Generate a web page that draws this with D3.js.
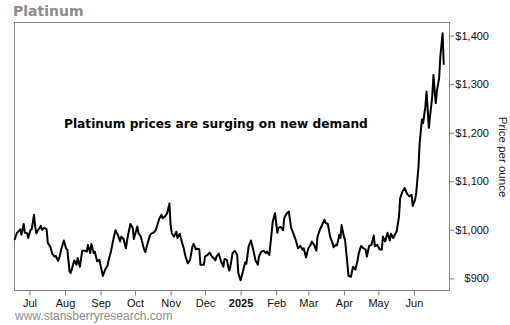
<!DOCTYPE html>
<html>
<head>
<meta charset="utf-8">
<script src="https://cdn.jsdelivr.net/npm/d3@7"></script>
<style>
  html, body { margin: 0; padding: 0; background: #fff; }
  svg { display: block; }
</style>
</head>
<body>
<svg id="chart" width="510" height="325"></svg>
<script>
const dates = [
"2024-06-18","2024-06-20","2024-06-23","2024-06-24","2024-06-26","2024-06-27","2024-06-29","2024-06-30",
"2024-07-02","2024-07-03","2024-07-05","2024-07-06","2024-07-07","2024-07-09","2024-07-11","2024-07-12",
"2024-07-14","2024-07-16","2024-07-17","2024-07-19","2024-07-21","2024-07-23","2024-07-24","2024-07-26",
"2024-07-27","2024-07-29","2024-07-31","2024-08-02","2024-08-03","2024-08-05","2024-08-06","2024-08-08",
"2024-08-09","2024-08-11","2024-08-12","2024-08-14","2024-08-16","2024-08-18","2024-08-20","2024-08-21",
"2024-08-23","2024-08-24","2024-08-26","2024-08-27","2024-08-29","2024-08-31","2024-09-03","2024-09-05",
"2024-09-07","2024-09-08","2024-09-10","2024-09-12","2024-09-14","2024-09-16","2024-09-18","2024-09-19",
"2024-09-21","2024-09-23","2024-09-25","2024-09-27","2024-09-29","2024-09-30","2024-10-03","2024-10-04",
"2024-10-06","2024-10-09","2024-10-10","2024-10-12","2024-10-14","2024-10-15","2024-10-17","2024-10-19",
"2024-10-21","2024-10-22","2024-10-24","2024-10-25","2024-10-27","2024-10-29","2024-10-31","2024-11-01",
"2024-11-02","2024-11-04","2024-11-06","2024-11-07","2024-11-09","2024-11-11","2024-11-12","2024-11-14",
"2024-11-16","2024-11-18","2024-11-20","2024-11-21","2024-11-23","2024-11-24","2024-11-26","2024-11-27",
"2024-11-30","2024-12-01","2024-12-03","2024-12-05","2024-12-07","2024-12-08","2024-12-10","2024-12-11",
"2024-12-13","2024-12-15","2024-12-17","2024-12-18","2024-12-20","2024-12-22","2024-12-23","2024-12-25",
"2024-12-27","2024-12-29","2024-12-30","2025-01-01","2025-01-03","2025-01-05","2025-01-06","2025-01-08",
"2025-01-10","2025-01-12","2025-01-14","2025-01-16","2025-01-17","2025-01-19","2025-01-21","2025-01-23",
"2025-01-24","2025-01-26","2025-01-28","2025-01-29","2025-01-31","2025-02-02","2025-02-03","2025-02-05",
"2025-02-07","2025-02-08","2025-02-10","2025-02-12","2025-02-14","2025-02-17","2025-02-18","2025-02-20",
"2025-02-22","2025-02-24","2025-02-25","2025-02-27","2025-03-01","2025-03-03","2025-03-04","2025-03-06",
"2025-03-08","2025-03-09","2025-03-11","2025-03-13","2025-03-15","2025-03-16","2025-03-18","2025-03-20",
"2025-03-22","2025-03-23","2025-03-25","2025-03-26","2025-03-28","2025-03-29","2025-03-30","2025-04-01",
"2025-04-02","2025-04-04","2025-04-05","2025-04-07","2025-04-09","2025-04-11","2025-04-13","2025-04-14",
"2025-04-16","2025-04-18","2025-04-20","2025-04-21","2025-04-23","2025-04-25","2025-04-27","2025-04-28",
"2025-04-30","2025-05-02","2025-05-04","2025-05-05","2025-05-07","2025-05-09","2025-05-11","2025-05-12",
"2025-05-14","2025-05-16","2025-05-17","2025-05-19","2025-05-20","2025-05-22","2025-05-24","2025-05-26",
"2025-05-28","2025-05-30","2025-05-31","2025-06-02","2025-06-03","2025-06-05","2025-06-06","2025-06-08",
"2025-06-09","2025-06-11","2025-06-12","2025-06-14","2025-06-15","2025-06-17","2025-06-18","2025-06-20",
"2025-06-21","2025-06-23","2025-06-24","2025-06-26","2025-06-27"
];
const prices = [
979,993,1001,990,1012,994,993,983,
1000,1001,1031,1007,993,1001,1008,1000,
1004,1001,973,966,950,945,946,936,
942,962,978,961,959,914,911,928,
937,928,942,924,957,957,955,969,
952,971,952,955,935,938,905,918,
926,938,955,979,999,990,976,986,
981,962,990,1012,1004,981,1007,993,
986,959,954,973,988,992,994,999,
1014,1022,1031,1024,1027,1034,1054,1010,
993,986,996,983,992,973,966,945,
931,938,966,971,960,961,960,928,
928,945,948,953,945,943,937,945,
951,935,924,940,938,916,923,952,
957,948,911,896,914,933,930,966,
978,959,937,928,945,955,957,952,
955,948,993,1017,1034,994,1004,1006,
999,1024,1033,1038,1004,986,979,962,
967,959,962,943,962,969,976,969,
957,986,1000,1010,1021,1014,1012,986,
973,964,969,968,990,983,1010,986,
979,931,905,903,924,918,938,952,
967,962,959,945,967,969,988,966,
969,960,959,986,976,994,978,992,
983,993,997,1027,1065,1079,1086,1074,
1069,1072,1049,1062,1076,1130,1179,1227,
1220,1254,1285,1210,1233,1275,1319,1261,
1285,1313,1357,1405,1340
];
const monthTicks = ["2024-07-01","2024-08-01","2024-09-01","2024-10-01","2024-11-01","2024-12-01",
                    "2025-01-01","2025-02-01","2025-03-01","2025-04-01","2025-05-01","2025-06-01"];
const monthLabels = ["Jul","Aug","Sep","Oct","Nov","Dec","2025","Feb","Mar","Apr","May","Jun"];
const priceTicks = [900, 1000, 1100, 1200, 1300, 1400];
const xDomain = ["2024-06-18", "2025-07-02"];
const yDomain = [875, 1427];

const parse = d3.utcParse("%Y-%m-%d");
const data = dates.map((d, i) => ({ date: parse(d), value: prices[i] }));

const L = 14.5, R = 449.5, T = 22.5, B = 290.5;
const x = d3.scaleUtc().domain(xDomain.map(parse)).range([L, R]);
const y = d3.scaleLinear().domain(yDomain).range([B, T]);

const svg = d3.select("#chart");
const gray = "#808080";

// title
svg.append("text").attr("x", 13).attr("y", 16)
  .attr("font-family", "DejaVu Sans").attr("font-weight", "bold").attr("font-size", 14)
  .attr("fill", "#8c8c8c").text("Platinum");

// frame
svg.append("rect").attr("x", L).attr("y", T).attr("width", R - L).attr("height", B - T)
  .attr("fill", "none").attr("stroke", gray).attr("stroke-width", 1);

// x axis
const xAxis = d3.axisBottom(x)
  .tickValues(monthTicks.map(parse))
  .tickSize(5).tickPadding(4)
  .tickFormat((d, i) => monthLabels[i]);
const gx = svg.append("g").attr("transform", `translate(0,${B})`).call(xAxis);
gx.select(".domain").remove();
gx.selectAll(".tick line").attr("stroke", gray);
gx.selectAll(".tick text")
  .attr("font-family", "Liberation Sans, Arial, sans-serif").attr("font-size", 11)
  .attr("fill", "#111")
  .attr("font-weight", (d, i) => monthLabels[i] === "2025" ? "bold" : "normal");

// y axis on right
const yAxis = d3.axisRight(y)
  .tickValues(priceTicks).tickSize(5).tickPadding(4)
  .tickFormat(d => "$" + d3.format(",")(d));
const gy = svg.append("g").attr("transform", `translate(${R},0)`).call(yAxis);
gy.select(".domain").remove();
gy.selectAll(".tick line").attr("stroke", gray);
gy.selectAll(".tick text")
  .attr("font-family", "Liberation Sans, Arial, sans-serif").attr("font-size", 11)
  .attr("fill", "#111").attr("text-anchor", "end").attr("x", 39.5);

// y axis title
svg.append("text")
  .attr("transform", "translate(499,157) rotate(90)")
  .attr("text-anchor", "middle")
  .attr("font-family", "Liberation Sans, Arial, sans-serif").attr("font-size", 11.5)
  .attr("fill", "#222").text("Price per ounce");

// line
const line = d3.line().x(d => x(d.date)).y(d => y(d.value));
svg.append("path").datum(data)
  .attr("d", line).attr("fill", "none").attr("stroke", "#000")
  .attr("stroke-width", 2).attr("stroke-linejoin", "round");

// annotation
svg.append("text").attr("x", 64).attr("y", 128)
  .attr("font-family", "DejaVu Sans").attr("font-weight", "bold").attr("font-size", 12.2)
  .attr("fill", "#000").text("Platinum prices are surging on new demand");

// footer
svg.append("text").attr("x", 15).attr("y", 320)
  .attr("font-family", "Liberation Sans, Arial, sans-serif").attr("font-size", 12)
  .attr("fill", "#8c8c8c").text("www.stansberryresearch.com");
</script>
</body>
</html>
